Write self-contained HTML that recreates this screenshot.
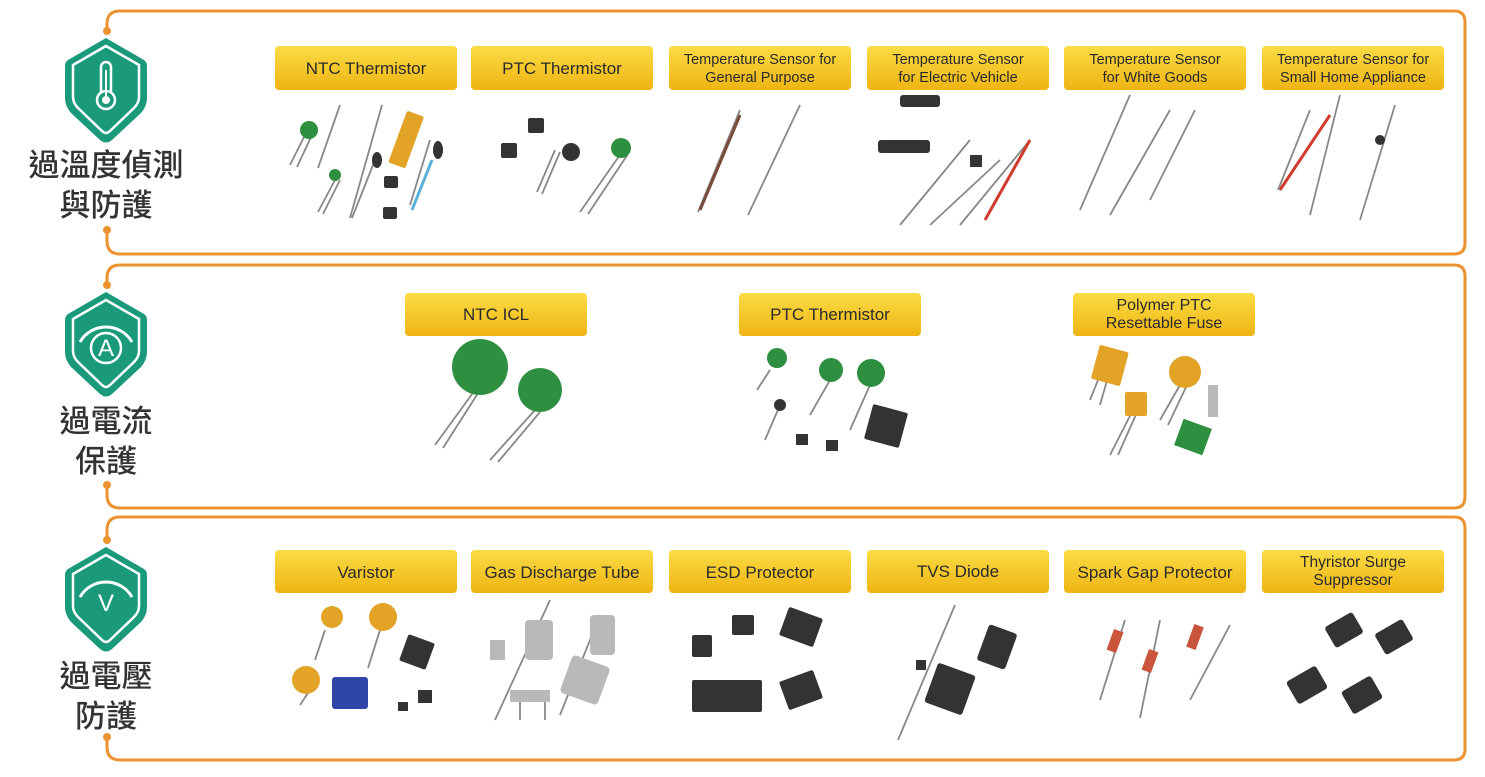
<!DOCTYPE html>
<html><head><meta charset="utf-8"><style>
html,body{margin:0;padding:0;background:#fff;}
body{width:1485px;height:772px;overflow:hidden;font-family:"Liberation Sans",Arial,sans-serif;}
</style></head><body>
<svg width="1485" height="772" viewBox="0 0 1485 772" xmlns="http://www.w3.org/2000/svg">
<defs>
<linearGradient id="yg" x1="0" y1="0" x2="0" y2="1">
<stop offset="0" stop-color="#fbdc45"/><stop offset="1" stop-color="#efb414"/></linearGradient>
<g id="shield">
<path d="M0,-66 L38,-44 Q41,-42 41,-38 L41,-6 Q41,2 35,9 L6,36 Q0,41 -6,36 L-35,9 Q-41,2 -41,-6 L-41,-38 Q-41,-42 -38,-44 Z" fill="#1a9a7b"/>
<path d="M0,-58 L33,-39 L33,-7 Q33,-1 28,4 L4,27 Q0,31 -4,27 L-28,4 Q-33,-1 -33,-7 L-33,-39 Z" fill="none" stroke="#fff" stroke-width="2.5"/>
</g>
</defs>
<g fill="none" stroke="#ec9331" stroke-width="3">
<path d="M107,31 V24 Q107,11 120,11 H1454 Q1465,11 1465,22 V243 Q1465,254 1454,254 H120 Q107,254 107,241 V230"/>
<path d="M107,285 V278 Q107,265 120,265 H1454 Q1465,265 1465,276 V497 Q1465,508 1454,508 H120 Q107,508 107,495 V485"/>
<path d="M107,540 V530 Q107,517 120,517 H1454 Q1465,517 1465,528 V749 Q1465,760 1454,760 H120 Q107,760 107,747 V737"/>
</g>
<g fill="#ec9331"><circle cx="107" cy="31" r="4"/><circle cx="107" cy="230" r="4"/><circle cx="107" cy="285" r="4"/><circle cx="107" cy="485" r="4"/><circle cx="107" cy="540" r="4"/><circle cx="107" cy="737" r="4"/></g>
<!-- shields -->
<g transform="translate(106,104)"><use href="#shield"/>
<rect x="-5" y="-42" width="10" height="34" rx="5" fill="none" stroke="#fff" stroke-width="2.5"/>
<circle cx="0" cy="-4" r="9" fill="#1a9a7b" stroke="#fff" stroke-width="2.5"/><circle cx="0" cy="-4" r="4" fill="#fff"/>
<line x1="0" y1="-34" x2="0" y2="-8" stroke="#fff" stroke-width="2"/></g>
<g transform="translate(106,358)"><use href="#shield"/>
<path d="M-26,-16 A30,30 0 0 1 26,-16" fill="none" stroke="#fff" stroke-width="3"/>
<text x="0" y="-2" text-anchor="middle" font-size="24" fill="#fff" font-family="Liberation Sans">A</text>
<circle cx="0" cy="-10" r="15" fill="none" stroke="#fff" stroke-width="2.5"/></g>
<g transform="translate(106,613)"><use href="#shield"/>
<path d="M-26,-16 A30,30 0 0 1 26,-16" fill="none" stroke="#fff" stroke-width="3"/>
<text x="0" y="-2" text-anchor="middle" font-size="24" fill="#fff" font-family="Liberation Sans">V</text></g>
<g font-family="'Liberation Sans','Noto Sans CJK TC',sans-serif" font-size="31" fill="#333" text-anchor="middle" font-weight="500">
<text x="106" y="176">過溫度偵測</text><text x="106" y="216">與防護</text>
<text x="106" y="432">過電流</text><text x="106" y="472">保護</text>
<text x="106" y="687">過電壓</text><text x="106" y="727">防護</text>
</g>
<!-- labels -->
<g fill="url(#yg)">
<rect x="275" y="46" width="182" height="44" rx="4"/><rect x="471" y="46" width="182" height="44" rx="4"/><rect x="669" y="46" width="182" height="44" rx="4"/><rect x="867" y="46" width="182" height="44" rx="4"/><rect x="1064" y="46" width="182" height="44" rx="4"/><rect x="1262" y="46" width="182" height="44" rx="4"/>
<rect x="405" y="293" width="182" height="43" rx="4"/><rect x="739" y="293" width="182" height="43" rx="4"/><rect x="1073" y="293" width="182" height="43" rx="4"/>
<rect x="275" y="550" width="182" height="43" rx="4"/><rect x="471" y="550" width="182" height="43" rx="4"/><rect x="669" y="550" width="182" height="43" rx="4"/><rect x="867" y="550" width="182" height="43" rx="4"/><rect x="1064" y="550" width="182" height="43" rx="4"/><rect x="1262" y="550" width="182" height="43" rx="4"/>
</g>
<g font-size="17" fill="#2a2a2a" text-anchor="middle">
<text x="366" y="74">NTC Thermistor</text><text x="562" y="74">PTC Thermistor</text>
<text x="760" y="64" font-size="14.5">Temperature Sensor for</text><text x="760" y="82" font-size="14.5">General Purpose</text>
<text x="958" y="64" font-size="14.5">Temperature Sensor</text><text x="958" y="82" font-size="14.5">for Electric Vehicle</text>
<text x="1155" y="64" font-size="14.5">Temperature Sensor</text><text x="1155" y="82" font-size="14.5">for White Goods</text>
<text x="1353" y="64" font-size="14.5">Temperature Sensor for</text><text x="1353" y="82" font-size="14.5">Small Home Appliance</text>
<text x="496" y="320">NTC ICL</text><text x="830" y="320">PTC Thermistor</text>
<text x="1164" y="310" font-size="16">Polymer PTC</text><text x="1164" y="328" font-size="16">Resettable Fuse</text>
<text x="366" y="578">Varistor</text><text x="562" y="578">Gas Discharge Tube</text><text x="760" y="578">ESD Protector</text>
<text x="958" y="577">TVS Diode</text><text x="1155" y="578">Spark Gap Protector</text>
<text x="1353" y="567" font-size="15.5">Thyristor Surge</text><text x="1353" y="585" font-size="15.5">Suppressor</text>
</g>
<!-- products: leads -->
<g stroke="#888" stroke-width="1.8" fill="none">
<path d="M305,135 L290,165 M312,135 L297,167"/><path d="M335,180 L318,212 M340,180 L323,214"/><path d="M340,105 L318,168 M382,105 L350,218"/><path d="M375,160 L352,218"/><path d="M430,140 L410,205"/>
<path d="M555,150 L537,192 M560,152 L542,194"/><path d="M622,152 L580,212 M628,154 L588,214"/>
<path d="M740,110 L698,212"/><path d="M800,105 L748,215"/>
<path d="M970,140 L900,225 M1030,140 L960,225 M1000,160 L930,225"/>
<path d="M1130,95 L1080,210 M1170,110 L1110,215 M1195,110 L1150,200"/>
<path d="M1310,110 L1278,190 M1340,95 L1310,215 M1395,105 L1360,220"/>
<path d="M475,390 L435,445 M480,390 L443,448 M535,410 L490,460 M540,412 L498,462"/>
<path d="M770,370 L757,390 M830,380 L810,415 M870,385 L850,430 M780,405 L765,440"/>
<path d="M1102,370 L1090,400 M1110,370 L1100,405 M1133,410 L1110,455 M1138,410 L1118,455 M1180,385 L1160,420 M1187,385 L1168,425"/>
<path d="M325,630 L315,660 M380,630 L368,668 M310,690 L300,705"/>
<path d="M550,600 L495,720 M600,615 L560,715 M520,700 L520,720 M545,700 L545,720"/>
<path d="M955,605 L898,740"/>
<path d="M1125,620 L1100,700 M1160,620 L1140,718 M1230,625 L1190,700"/>
</g>
<g stroke="#cf3b2c" stroke-width="3"><path d="M1330,115 L1280,190"/><path d="M1030,140 L985,220"/></g>
<g stroke="#7a4a3a" stroke-width="3"><path d="M740,115 L700,210"/></g>
<g stroke="#5ab0d8" stroke-width="3"><path d="M432,160 L412,210"/></g>
<!-- bodies -->
<g fill="#2d8f3f"><circle cx="309" cy="130" r="9"/><circle cx="335" cy="175" r="6"/><circle cx="621" cy="148" r="10"/>
<circle cx="480" cy="367" r="28"/><circle cx="540" cy="390" r="22"/><circle cx="777" cy="358" r="10"/><circle cx="831" cy="370" r="12"/><circle cx="871" cy="373" r="14"/><rect x="1178" y="423" width="30" height="28" transform="rotate(20 1193 437)"/></g>
<g fill="#e3a326"><rect x="397" y="112" width="18" height="55" rx="2" transform="rotate(20 406 140)"/><rect x="1095" y="348" width="30" height="35" rx="2" transform="rotate(15 1110 365)"/><rect x="1125" y="392" width="22" height="24" rx="2"/><circle cx="1185" cy="372" r="16"/>
<circle cx="332" cy="617" r="11"/><circle cx="383" cy="617" r="14"/><circle cx="306" cy="680" r="14"/></g>
<g fill="#333"><rect x="384" y="176" width="14" height="12" rx="2"/><rect x="383" y="207" width="14" height="12" rx="2"/><ellipse cx="377" cy="160" rx="5" ry="8"/><ellipse cx="438" cy="150" rx="5" ry="9"/>
<rect x="501" y="143" width="16" height="15" rx="2"/><rect x="528" y="118" width="16" height="15" rx="2"/><circle cx="571" cy="152" r="9"/>
<rect x="900" y="95" width="40" height="12" rx="3"/><rect x="878" y="140" width="52" height="13" rx="3"/><rect x="970" y="155" width="12" height="12"/><circle cx="1380" cy="140" r="5"/>
<rect x="868" y="408" width="36" height="36" rx="2" transform="rotate(15 886 426)"/><rect x="796" y="434" width="12" height="11"/><rect x="826" y="440" width="12" height="11"/><circle cx="780" cy="405" r="6"/>
<rect x="403" y="638" width="28" height="28" rx="2" transform="rotate(20 417 652)"/><rect x="418" y="690" width="14" height="13"/><rect x="398" y="702" width="10" height="9"/>
<rect x="692" y="635" width="20" height="22" rx="2"/><rect x="732" y="615" width="22" height="20" rx="2"/><rect x="692" y="680" width="70" height="32" rx="2"/><rect x="783" y="612" width="36" height="30" rx="2" transform="rotate(20 801 627)"/><rect x="783" y="675" width="36" height="30" rx="2" transform="rotate(-20 801 690)"/>
<rect x="982" y="628" width="30" height="38" rx="3" transform="rotate(20 997 647)"/><rect x="930" y="668" width="40" height="42" rx="3" transform="rotate(20 950 689)"/><rect x="916" y="660" width="10" height="10"/>
<rect x="1328" y="618" width="32" height="24" rx="3" transform="rotate(-30 1344 630)"/><rect x="1378" y="625" width="32" height="24" rx="3" transform="rotate(-30 1394 637)"/><rect x="1290" y="672" width="34" height="26" rx="3" transform="rotate(-30 1307 685)"/><rect x="1345" y="682" width="34" height="26" rx="3" transform="rotate(-30 1362 695)"/></g>
<g fill="#2f45a8"><rect x="332" y="677" width="36" height="32" rx="3"/></g>
<g fill="#b9b9b9"><rect x="525" y="620" width="28" height="40" rx="4"/><rect x="590" y="615" width="25" height="40" rx="4"/><rect x="565" y="660" width="40" height="40" rx="4" transform="rotate(20 585 680)"/><rect x="510" y="690" width="40" height="12"/><rect x="490" y="640" width="15" height="20"/><rect x="1208" y="385" width="10" height="32"/></g>
<g fill="#c8553c"><rect x="1110" y="630" width="10" height="22" transform="rotate(20 1115 641)"/><rect x="1145" y="650" width="10" height="22" transform="rotate(20 1150 661)"/><rect x="1190" y="625" width="10" height="24" transform="rotate(20 1195 637)"/></g>
</svg>
</body></html>
